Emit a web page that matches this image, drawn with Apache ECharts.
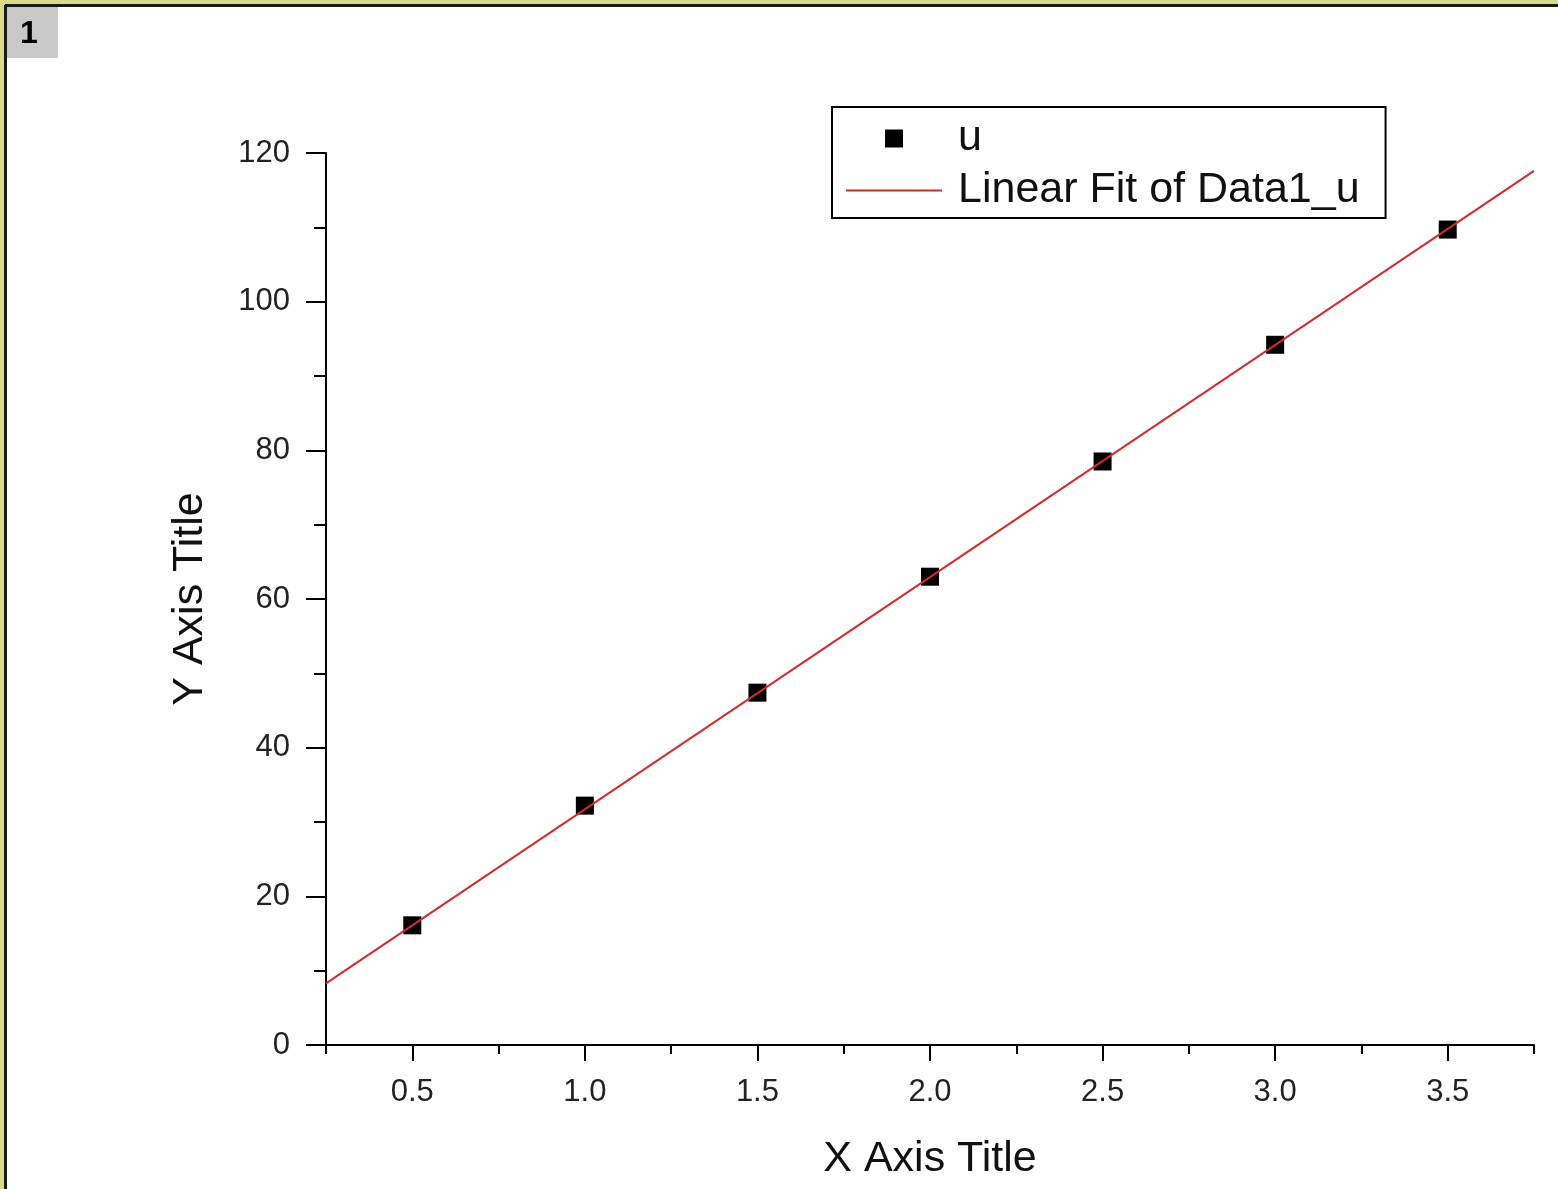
<!DOCTYPE html>
<html>
<head>
<meta charset="utf-8">
<script src="https://cdn.jsdelivr.net/npm/echarts@6/dist/echarts.min.js"></script>
<style>
html,body{margin:0;padding:0;background:#fff;}
#chart{width:1558px;height:1189px;}
</style>
</head>
<body>
<div id="chart"></div>
<script>
// Data
const xValues = [0.5, 1.0, 1.5, 2.0, 2.5, 3.0, 3.5];
const uValues = [16.1, 32.2, 47.4, 63.0, 78.5, 94.2, 109.7];
const fitX = [0.25, 3.75];
const fitY = [8.3, 117.6];
const xMajorTicks = [0.5, 1.0, 1.5, 2.0, 2.5, 3.0, 3.5];
const seriesNames = ['u', 'Linear Fit of Data1_u'];

const FONT = '"Liberation Sans", Arial, sans-serif';
const chart = echarts.init(document.getElementById('chart'));

const option = {
  animation: false,
  backgroundColor: '#ffffff',
  grid: { left: 326, right: 24, top: 153, bottom: 144, containLabel: false, outerBoundsMode: 'none' },
  legend: {
    orient: 'vertical',
    left: 832,
    top: 107,
    padding: [10, 26, 6, 14],
    borderColor: '#000',
    borderWidth: 2,
    backgroundColor: '#fff',
    itemWidth: 96,
    itemHeight: 18,
    itemGap: 9,
    symbolKeepAspect: true,
    textStyle: { fontFamily: FONT, fontSize: 43, color: '#111', lineHeight: 40, padding: [0, 0, 0, 11] },
    data: [
      { name: seriesNames[0], icon: 'path://M0,0L10,0L10,10L0,10Z', itemStyle: { color: '#000', opacity: 1 } },
      { name: seriesNames[1], icon: 'path://M0,0L96,0L96,2L0,2Z', itemStyle: { color: '#d42a2a' } }
    ]
  },
  xAxis: [
    {
      type: 'value', min: 0.25, max: 3.75, interval: 0.25,
      position: 'bottom',
      name: 'X Axis Title', nameLocation: 'middle', nameGap: 93,
      nameTextStyle: { fontFamily: FONT, fontSize: 43, color: '#111' },
      axisLine: { show: true, onZero: false, lineStyle: { color: '#000', width: 2 } },
      axisTick: { show: true, length: 9, lineStyle: { color: '#000', width: 2 } },
      axisLabel: {
        fontFamily: FONT, fontSize: 31, color: '#222', margin: 32,
        formatter: function (v) {
          return xMajorTicks.some(function (t) { return Math.abs(t - v) < 1e-6; }) ? v.toFixed(1) : '';
        }
      },
      splitLine: { show: false }
    },
    {
      type: 'value', min: 0.25, max: 3.75,
      position: 'bottom', offset: 0,
      axisLine: { show: false },
      axisTick: { show: true, length: 16, customValues: xMajorTicks, lineStyle: { color: '#000', width: 2 } },
      axisLabel: { show: false },
      splitLine: { show: false }
    }
  ],
  yAxis: {
    type: 'value', min: 0, max: 120, interval: 20,
    name: 'Y Axis Title', nameLocation: 'middle', nameGap: 114, nameRotate: 90,
    nameTextStyle: { fontFamily: FONT, fontSize: 43, color: '#111' },
    axisLine: { show: true, onZero: false, lineStyle: { color: '#000', width: 2 } },
    axisTick: { show: true, length: 20, lineStyle: { color: '#000', width: 2 } },
    minorTick: { show: true, splitNumber: 2, length: 12, lineStyle: { color: '#000', width: 2 } },
    axisLabel: { fontFamily: FONT, fontSize: 31, color: '#222', margin: 36 },
    splitLine: { show: false },
    minorSplitLine: { show: false }
  },
  graphic: [
    { type: 'rect', z: -10, shape: { x: 0, y: 0, width: 1558, height: 5 }, style: { fill: '#d9d98a' } },
    { type: 'rect', z: -10, shape: { x: 0, y: 0, width: 5, height: 1189 }, style: { fill: '#d9d98a' } },
    { type: 'rect', z: -9, shape: { x: 5, y: 4, width: 1553, height: 3 }, style: { fill: '#1a1a1a' } },
    { type: 'rect', z: -9, shape: { x: 4, y: 5, width: 3, height: 1184 }, style: { fill: '#1a1a1a' } },
    { type: 'rect', z: -8, shape: { x: 7, y: 7, width: 51, height: 51 }, style: { fill: '#c8c8c8' } },
    { type: 'text', z: -7, left: 20, top: 18, style: { text: '1', font: 'bold 32px ' + FONT, fill: '#000' } }
  ],
  series: [
    {
      name: seriesNames[0],
      type: 'scatter',
      symbol: 'rect',
      symbolSize: 18,
      itemStyle: { color: '#000', opacity: 1 },
      z: 3,
      data: xValues.map(function (x, i) { return [x, uValues[i]]; })
    },
    {
      name: seriesNames[1],
      type: 'line',
      symbol: 'none',
      showSymbol: false,
      lineStyle: { color: '#d42a2a', width: 2 },
      itemStyle: { color: '#d42a2a' },
      z: 4,
      data: fitX.map(function (x, i) { return [x, fitY[i]]; })
    }
  ]
};
chart.setOption(option);
</script>
</body>
</html>
